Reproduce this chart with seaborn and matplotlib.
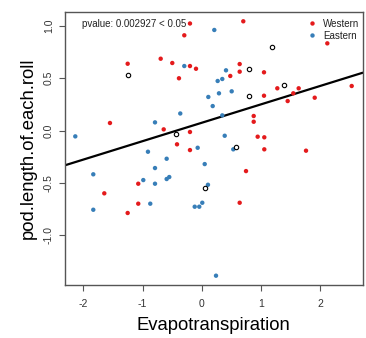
import matplotlib
matplotlib.use("Agg")
import matplotlib.pyplot as plt
import seaborn as sns
import pandas as pd

# Western populations
west_x = [-0.198, -0.294, 0.703, 2.123, -1.251, -0.693, -0.497, -0.198, -0.096, -0.384,
          0.642, 0.642, 0.483, 1.053, 1.278, 1.639, 1.548, 1.053, 1.453, 1.910,
          2.535, 0.879, 0.879, -1.550, -0.642, -0.198, -0.417, -0.198, 0.946, 1.058,
          1.058, 1.763, 0.749, -1.072, -1.646, -1.072, -1.251, 0.642]
west_y = [1.024, 0.911, 1.045, 0.834, 0.639, 0.687, 0.646, 0.617, 0.591, 0.500,
          0.636, 0.563, 0.522, 0.557, 0.404, 0.404, 0.356, 0.333, 0.282, 0.314,
          0.426, 0.139, 0.084, 0.072, 0.011, -0.014, -0.132, -0.187, -0.059, -0.065,
          -0.180, -0.193, -0.388, -0.509, -0.601, -0.700, -0.789, -0.691]

# Eastern populations
east_x = [0.213, -0.294, 0.270, 0.292, 0.112, 0.186, -0.362, 0.411, 0.348, 0.507,
          0.348, -0.789, -2.136, -0.068, -0.908, -0.592, 0.051, -0.789, -1.832, -0.987,
          -0.592, -0.548, -0.789, 0.106, -0.869, 0.010, -0.118, -0.041, -1.832, 0.389,
          0.534, 0.242]
east_y = [0.962, 0.617, 0.474, 0.356, 0.321, 0.234, 0.163, 0.576, 0.493, 0.375,
          0.145, 0.078, -0.056, -0.165, -0.203, -0.270, -0.321, -0.359, -0.419, -0.474,
          -0.464, -0.445, -0.509, -0.519, -0.700, -0.691, -0.729, -0.729, -0.758, -0.050,
          -0.180, -1.389]

# Unassigned samples (open circles)
other_x = [-1.251, 1.183, 0.799, 0.799, 1.391, -0.439, 0.580, 0.051]
other_y = [0.531, 0.802, 0.591, 0.333, 0.433, -0.033, -0.158, -0.547]

# Linear fit
fit_intercept = 0.074
fit_slope = 0.176
pvalue_text = "pvalue: 0.002927 < 0.05"

x_ticks = [-2, -1, 0, 1, 2]
y_ticks = [-1.0, -0.5, 0.0, 0.5, 1.0]

sns.set_theme(style="white")
plt.rcParams["font.family"] = ["Liberation Sans", "DejaVu Sans"]

df = pd.DataFrame({
    "Evapotranspiration": west_x + east_x,
    "pod.length.of.each.roll": west_y + east_y,
    "region": ["Western"] * len(west_x) + ["Eastern"] * len(east_x),
})

fig = plt.figure(figsize=(3.66, 3.38), dpi=100)
ax = fig.add_axes([65 / 366, 1 - 285 / 338, 297.7 / 366, 273 / 338])

sns.scatterplot(data=df, x="Evapotranspiration", y="pod.length.of.each.roll",
                hue="region", palette={"Western": "#E41A1C", "Eastern": "#377EB8"},
                s=10, linewidth=0, ax=ax, zorder=3)
ax.scatter(other_x, other_y, s=10, facecolors="white", edgecolors="black",
           linewidths=0.8, zorder=3)

ax.axline((0, fit_intercept), slope=fit_slope, color="black", lw=1.6, zorder=2)

ax.set_xlim(-2.310, 2.721)
ax.set_ylim(-1.478, 1.134)
ax.set_xticks(x_ticks)
ax.set_xticklabels([f"{t:g}" for t in x_ticks])
ax.set_yticks(y_ticks)
ax.set_yticklabels([f"{t:.1f}" for t in y_ticks], rotation=90, va="center")
ax.tick_params(axis="both", direction="out", length=4, width=0.8, color="#555555",
               labelsize=7.5, labelcolor="#333333", bottom=True, left=True)
ax.tick_params(axis="x", pad=6)
ax.tick_params(axis="y", pad=4)

for sp in ax.spines.values():
    sp.set_color("#555555")
    sp.set_linewidth(1.0)

ax.set_xlabel("Evapotranspiration", fontsize=13.3, color="black", labelpad=6)
ax.set_ylabel("pod.length.of.each.roll", fontsize=13.3, color="black", labelpad=5)

ax.text(0.056, 0.957, pvalue_text, transform=ax.transAxes, fontsize=7,
        va="center", ha="left", color="#222222")

leg = ax.legend(loc="upper left", bbox_to_anchor=(0.775, 1.0), frameon=False,
                fontsize=7, handletextpad=0.1, labelspacing=0.2, borderaxespad=0.3,
                markerscale=1.0)
for t in leg.get_texts():
    t.set_color("#222222")

fig.savefig("out.png", dpi=100)
